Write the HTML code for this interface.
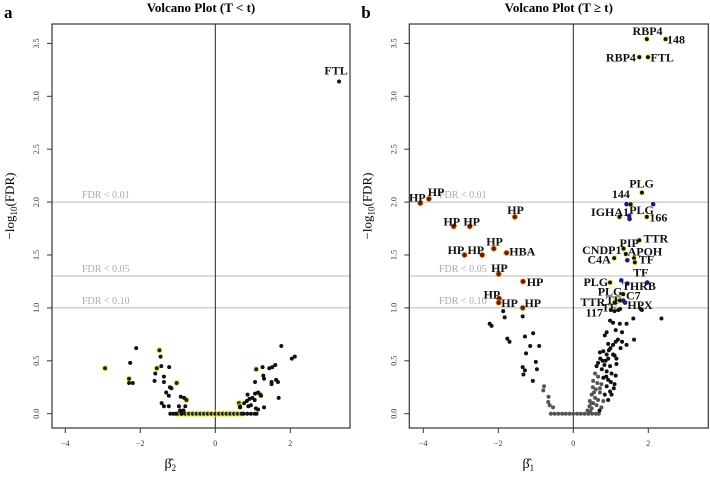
<!DOCTYPE html>
<html><head><meta charset="utf-8"><style>
body{margin:0;background:#fff}
svg{display:block;font-family:"Liberation Serif",serif}
.lab{font-weight:bold;font-size:12px;fill:#111}
.tick{font-size:8px;fill:#333}
.fdr{font-size:10px;fill:#aaa}
</style></head><body>
<svg id="chart" width="710" height="479" viewBox="0 0 710 479" xmlns="http://www.w3.org/2000/svg"></svg>
<script>
// Panel a data (beta2, -log10 FDR)
const aBlack = [[-2.11,0.62],[-2.27,0.48],[-2.3,0.29],[-2.2,0.29],[-1.46,0.54],[-1.44,0.45],[-1.6,0.38],[-1.62,0.31],[-1.37,0.35],[-1.37,0.30],[-1.23,0.44],[-1.21,0.25],[-1.17,0.24],[-1.31,0.20],[-1.24,0.17],[-1.43,0.10],[-1.37,0.07],[-1.24,0.07],[-0.92,0.16],[-0.83,0.15],[-0.97,0.07],[-0.8,0.07],[-0.94,0.03],[-0.85,0.03],[-1.2,0],[-1.12,0],[-1.05,0],[-0.9,0],[1.26,0.44],[1.44,0.43],[1.52,0.44],[1.6,0.46],[1.76,0.64],[2.04,0.52],[2.12,0.54],[1.28,0.36],[1.3,0.33],[1.06,0.3],[1.5,0.30],[1.5,0.28],[1.62,0.32],[1.67,0.30],[1.69,0.15],[1.3,0.06],[1.14,0.20],[1.22,0.17],[1.06,0.19],[0.86,0.18],[0.91,0.14],[0.99,0.15],[1.05,0.13],[0.84,0.12],[0.77,0.1],[0.66,0.06],[0.88,0.07],[0.95,0.08],[1.08,0.05],[1.14,0.04],[0.75,0],[0.85,0],[0.95,0],[1.05,0],[1.1,0],[3.3,3.14]];
const aYellow = [[-2.94,0.43],[-2.3,0.33],[-1.49,0.60],[-1.56,0.43],[-1.03,0.29],[-0.77,0.13],[-1.0,0],[-0.9,0],[-0.8,0],[-0.7,0],[-0.6,0],[-0.5,0],[-0.4,0],[-0.3,0],[-0.2,0],[-0.1,0],[0,0],[0.1,0],[0.2,0],[0.3,0],[0.4,0],[0.5,0],[0.6,0],[0.7,0],[1.09,0.42],[0.63,0.1],[0.66,0.07],[1.2,0.18]];
const aLabels = [["FTL",3.22,3.25]];

// Panel b data (beta1, -log10 FDR)
const bOrange = [[-4.08,1.99],[-3.85,2.03],[-3.19,1.77],[-2.76,1.77],[-1.56,1.86],[-2.12,1.56],[-2.9,1.50],[-2.43,1.50],[-1.78,1.52],[-1.99,1.32],[-1.34,1.25],[-1.98,1.09],[-1.99,1.05],[-1.35,1.0]];
const bYellow = [[1.96,3.54],[2.46,3.54],[1.76,3.37],[1.99,3.37],[1.83,2.09],[1.53,1.98],[1.23,1.86],[1.96,1.86],[1.76,1.64],[1.34,1.56],[1.4,1.51],[1.09,1.47],[1.62,1.47],[1.64,1.43],[0.98,1.24],[1.33,1.13],[1.15,1.07],[1.24,1.07],[1.1,1.05]];
const bBlue = [[1.42,1.98],[2.13,1.98],[1.49,1.87],[1.5,1.84],[1.44,1.45],[1.28,1.26],[1.44,1.23],[1.97,1.24],[1.33,1.07],[1.38,1.05]];
const bBlack = [[-1.87,0.97],[-1.83,0.91],[-2.23,0.85],[-2.18,0.83],[-1.35,0.92],[-1.76,0.71],[-1.7,0.68],[-1.07,0.76],[-1.29,0.73],[-1.15,0.64],[-0.91,0.64],[-1.26,0.57],[-1.0,0.49],[-1.35,0.44],[-0.97,0.42],[-1.29,0.41],[-1.33,0.37],[-1.08,0.31],[2.35,0.9],[1.6,0.9],[1.8,0.99],[1.83,0.98],[1.62,0.7],[0.98,0.88],[1.06,0.86],[1.24,0.85],[1.42,0.85],[0.89,0.77],[0.84,0.74],[1.13,0.79],[1.3,0.77],[1.19,0.70],[1.13,0.68],[1.06,0.65],[0.93,0.66],[1.3,0.68],[1.42,0.65],[1.26,0.62],[0.99,0.62],[0.8,0.59],[0.71,0.58],[0.89,0.56],[1.06,0.56],[1.15,0.52],[0.93,0.52],[0.78,0.50],[0.66,0.48],[0.83,0.46],[0.98,0.45],[1.1,0.55],[1.15,0.47],[0.62,0.45],[0.76,0.42],[0.89,0.40],[1.02,0.38],[1.13,0.36],[0.8,0.34],[0.93,0.32],[0.89,0.26],[0.98,0.21],[0.84,0.18],[1.1,0.28],[1.08,0.24],[1.02,0.18],[0.93,0.13],[1.0,0.98],[1.1,0.97],[1.25,0.99],[1.2,0.98],[0.7,0.03],[0.86,0.5],[0.72,0.52],[0.95,0.6],[0.88,0.35],[1.0,0.3]];
const bGray = [[-0.78,0.26],[-0.8,0.22],[-0.66,0.16],[-0.67,0.11],[-0.63,0.08],[-0.54,0.06],[-0.6,0],[-0.5,0],[-0.4,0],[-0.3,0],[-0.2,0],[-0.1,0],[0,0],[0.1,0],[0.2,0],[0.3,0],[0.4,0],[0.5,0],[0.6,0],[0.68,0],[0.38,0.03],[0.45,0.02],[0.58,0.38],[0.66,0.35],[0.53,0.31],[0.64,0.29],[0.75,0.28],[0.52,0.25],[0.6,0.23],[0.71,0.2],[0.49,0.18],[0.58,0.15],[0.66,0.13],[0.8,0.12],[0.44,0.12],[0.53,0.1],[0.62,0.08],[0.75,0.06],[0.43,0.07],[0.49,0.05],[0.71,0.24],[0.55,0.2],[0.48,0.1]];
const bLabels = [["HP",-4.16,2.05],["HP",-3.66,2.10],["HP",-3.24,1.82],["HP",-2.71,1.82],["HP",-1.54,1.93],["HP",-2.1,1.63],["HP",-3.13,1.55],["HP",-2.6,1.55],["HBA",-1.36,1.54],["HP",-1.97,1.38],["HP",-1.02,1.25],["HP",-2.17,1.13],["HP",-1.7,1.05],["HP",-1.08,1.05],
["RBP4",1.98,3.62],["148",2.74,3.54],["RBP4",1.27,3.37],["FTL",2.37,3.37],["PLG",1.82,2.18],["144",1.27,2.08],["IGHA1",0.98,1.91],["PLG",1.82,1.93],["166",2.27,1.86],["TTR",2.2,1.66],["PIP",1.49,1.62],["CNDP1",0.76,1.55],["APOH",1.91,1.54],["C4A",0.69,1.46],["TF",1.95,1.46],["TF",1.8,1.34],["PLG",0.6,1.25],["THRB",1.75,1.21],["PLG",0.98,1.16],["C7",1.6,1.12],["TF",1.07,1.08],["TTR",0.52,1.06],["TF",0.96,1.01],["HPX",1.78,1.03],["117",0.56,0.96]];

const xTicks = [-4,-2,0,2];
const yTicks = ["0.0","0.5","1.0","1.5","2.0","2.5","3.0","3.5"];
const fdrLevels = [2,1.30103,1];
const fdrNames = ["FDR < 0.01","FDR < 0.05","FDR < 0.10"];

const NS="http://www.w3.org/2000/svg";
const svg=document.getElementById('chart');
function mk(tag,attrs,parent,text){const e=document.createElementNS(NS,tag);for(const k in attrs)e.setAttribute(k,attrs[k]);if(text!==undefined)e.textContent=text;(parent||svg).appendChild(e);return e;}

function panel(id,left,right,zeroX,letter,title,xsub,sets,labels,fdrX){
  const g=mk('g',{});
  
  
  const top=24,bottom=428,y0=413.7,ypu=105.8,xpu=37.5;
  const X=v=>zeroX+v*xpu, Y=v=>y0-v*ypu;
  const lt=mk('text',{x:left-48,y:18,'font-size':'17','font-weight':'bold'},g,letter);
  
  const tt=mk('text',{x:(left+right)/2,y:12,'font-size':'13','font-weight':'bold','text-anchor':'middle'},g,title);
  
  fdrLevels.forEach((lv,i)=>{
    const l=mk('line',{x1:left,x2:right,y1:Y(lv),y2:Y(lv),stroke:'#bbb','stroke-width':1},g);
    
    const t=mk('text',{x:fdrX,y:Y(lv)-4,class:'fdr'},g,fdrNames[i]);
    
  });
  const vl=mk('line',{x1:X(0),x2:X(0),y1:top,y2:bottom,stroke:'#222','stroke-width':1},g);
  
  sets.forEach(s=>{
    s.data.forEach(p=>{
      if(s.halo){const h=mk('circle',{cx:X(p[0]),cy:Y(p[1]),r:3.2,fill:s.halo,opacity:0.75},g);
        }
      const c=mk('circle',{cx:X(p[0]),cy:Y(p[1]),r:s.r||2,fill:s.fill},g);
      
    });
  });
  labels.forEach(l=>{
    const t=mk('text',{x:X(l[1]),y:Y(l[2])+4.5,class:'lab','text-anchor':'middle'},g,l[0]);
    
  });
  const box=mk('rect',{x:left,y:top,width:right-left,height:bottom-top,fill:'none',stroke:'#333','stroke-width':1.2},g);
  
  xTicks.forEach(v=>{
    const l=mk('line',{x1:X(v),x2:X(v),y1:bottom,y2:bottom+5,stroke:'#333'},g);
    
    const t=mk('text',{x:X(v),y:bottom+18,class:'tick','text-anchor':'middle'},g,v<0?'\u2212'+(-v):String(v));
    
  });
  yTicks.forEach(s=>{
    const v=parseFloat(s);
    const l=mk('line',{x1:left-5,x2:left,y1:Y(v),y2:Y(v),stroke:'#333'},g);
    
    const t=mk('text',{x:0,y:0,class:'tick','text-anchor':'middle',transform:`translate(${left-13},${Y(v)}) rotate(-90)`},g,s);
    
  });
  const yt=mk('text',{x:0,y:0,'font-size':'13','text-anchor':'middle',transform:`translate(${left-38},${(top+bottom)/2-20}) rotate(-90)`},g);
  
  mk('tspan',{},yt,'\u2212log');mk('tspan',{'font-size':'9',dy:'3'},yt,'10');mk('tspan',{dy:'-3'},yt,'(FDR)');
  const xt=mk('text',{x:X(-1.2),y:468,'font-size':'14','text-anchor':'middle'},g);
  
  mk('tspan',{},xt,'\u03B2\u0302');mk('tspan',{'font-size':'9',dy:'3'},xt,xsub);
}

panel('a',52,350,215.3,'a','Volcano Plot (T < t)','2',
  [{data:aYellow,halo:'#eeee33',fill:'#222'},{data:aBlack,fill:'#111'}],aLabels,82);
panel('b',409.3,708.3,573.3,'b','Volcano Plot (T \u2265 t)','1',
  [{data:bGray,fill:'#555'},{data:bBlack,fill:'#111'},{data:bYellow,halo:'#f2f25a',fill:'#111'},{data:bBlue,fill:'#1a1a8c',r:2.3},{data:bOrange,halo:'#f0a020',fill:'#6b1a00',r:2.3}],bLabels,439);
</script>
</body></html>
